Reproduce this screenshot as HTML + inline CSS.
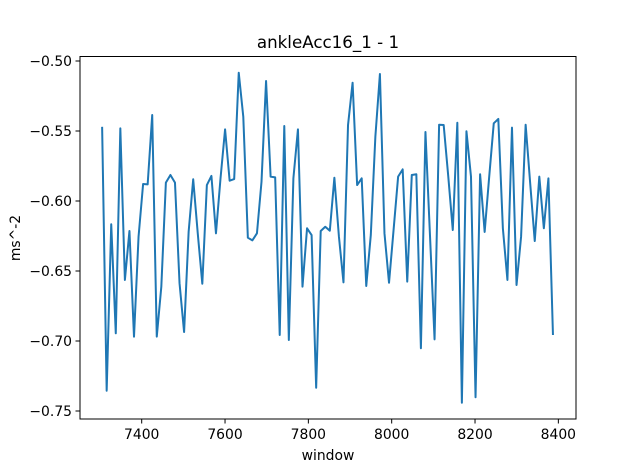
<!DOCTYPE html>
<html><head><meta charset="utf-8"><style>
html,body{margin:0;padding:0;background:#fff;}
svg{display:block;font-family:"DejaVu Sans","Liberation Sans",sans-serif;}
</style></head><body>
<svg id="chart" width="640" height="471" viewBox="0 0 640 471">
<text x="328" y="48" font-size="16.7" text-anchor="middle">ankleAcc16_1 - 1</text>
<g id="grid"></g>
<path id="series" fill="none" stroke="#1f77b4" stroke-width="2" stroke-linejoin="round"/>
<rect x="80" y="56.5" width="496" height="362.5" fill="none" stroke="#000" stroke-width="1"/>
<g id="xticks"></g>
<g id="yticks"></g>
<text x="328" y="460" font-size="13.9" text-anchor="middle">window</text>
<text x="0" y="0" font-size="13.9" text-anchor="middle" transform="translate(20,238) rotate(-90)">ms^-2</text>
</svg>
<script>
const windowStart = 7305;
const windowStep = 10.93;
const values = [-0.547,-0.7355,-0.6166,-0.6945,-0.5481,-0.6564,-0.6214,-0.6969,-0.6255,-0.5879,
-0.5881,-0.5386,-0.6969,-0.6612,-0.5869,-0.5814,-0.5869,-0.6588,-0.6936,-0.6219,
-0.5845,-0.6231,-0.6591,-0.5886,-0.5821,-0.6231,-0.5838,-0.5488,-0.5855,-0.5843,
-0.5084,-0.5398,-0.6262,-0.6281,-0.6231,-0.5862,-0.5143,-0.5826,-0.5831,-0.6957,
-0.5464,-0.6993,-0.5838,-0.5488,-0.6612,-0.6195,-0.6243,-0.7334,-0.6214,-0.6184,
-0.6212,-0.5834,-0.6255,-0.6581,-0.5457,-0.5155,-0.5886,-0.5838,-0.6607,-0.6243,
-0.5541,-0.5093,-0.6231,-0.6584,-0.6207,-0.5826,-0.5774,-0.6576,-0.5814,-0.5809,
-0.7052,-0.5507,-0.625,-0.6988,-0.5455,-0.5457,-0.5821,-0.6207,-0.5441,-0.7441,
-0.5502,-0.5826,-0.7402,-0.5809,-0.6221,-0.5826,-0.5445,-0.5414,-0.6195,-0.6564,
-0.5476,-0.66,-0.6255,-0.5455,-0.5874,-0.6286,-0.5826,-0.6195,-0.5838,-0.6957];
const windows = values.map((v,i)=>windowStart + windowStep*i);
const xTicks = [7400,7600,7800,8000,8200,8400];
const yTicks = [-0.50,-0.55,-0.60,-0.65,-0.70,-0.75];
const yTickLabels = ["\u22120.50","\u22120.55","\u22120.60","\u22120.65","\u22120.70","\u22120.75"];

const xScale = x => 141.7 + (x-7400)*(83.33/200);
const yScale = v => 61 + (-0.5 - v)*1400;
const NS = "http://www.w3.org/2000/svg";

let d = "";
values.forEach((v,i)=>{ d += (i?"L":"M") + xScale(windows[i]).toFixed(2) + "," + yScale(v).toFixed(2); });
document.getElementById("series").setAttribute("d", d);

const xg = document.getElementById("xticks");
xTicks.forEach(t=>{
  const x = xScale(t);
  const l = document.createElementNS(NS,"line");
  l.setAttribute("x1",x);l.setAttribute("x2",x);l.setAttribute("y1",419);l.setAttribute("y2",423.5);
  l.setAttribute("stroke","#000");
  
  
  xg.appendChild(l);
  const tx = document.createElementNS(NS,"text");
  tx.setAttribute("x",x);tx.setAttribute("y",439);tx.setAttribute("font-size","13.9");tx.setAttribute("text-anchor","middle");
  tx.textContent = String(t);
  
  
  xg.appendChild(tx);
});
const yg = document.getElementById("yticks");
yTicks.forEach((t,i)=>{
  const y = yScale(t);
  const l = document.createElementNS(NS,"line");
  l.setAttribute("x1",75.5);l.setAttribute("x2",80);l.setAttribute("y1",y);l.setAttribute("y2",y);
  l.setAttribute("stroke","#000");
  
  
  yg.appendChild(l);
  const tx = document.createElementNS(NS,"text");
  tx.setAttribute("x",72);tx.setAttribute("y",y+5);tx.setAttribute("font-size","13.9");tx.setAttribute("text-anchor","end");
  tx.textContent = yTickLabels[i];
  
  
  yg.appendChild(tx);
});
</script>
</body></html>
